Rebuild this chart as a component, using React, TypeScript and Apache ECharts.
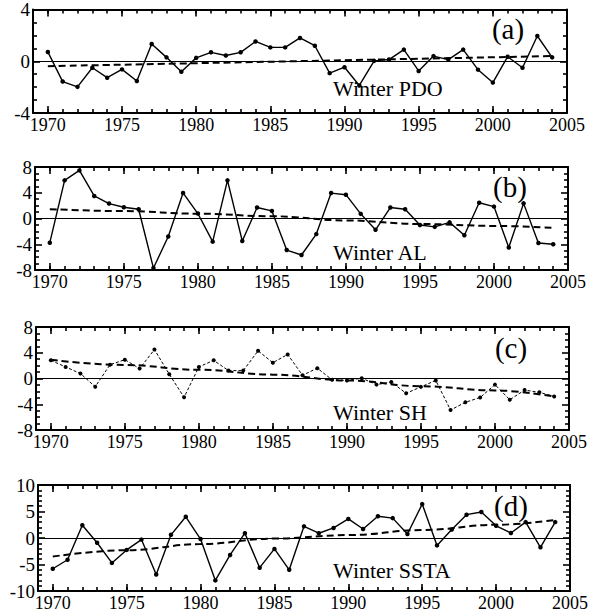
import React, { useEffect, useRef } from "react";
import * as echarts from "echarts";

// Winter climate indices, 1970–2004
const YEARS = [
  1970, 1971, 1972, 1973, 1974, 1975, 1976, 1977, 1978, 1979, 1980, 1981,
  1982, 1983, 1984, 1985, 1986, 1987, 1988, 1989, 1990, 1991, 1992, 1993,
  1994, 1995, 1996, 1997, 1998, 1999, 2000, 2001, 2002, 2003, 2004,
];
const MAJOR_YEARS = [1970, 1975, 1980, 1985, 1990, 1995, 2000, 2005];
const X_MIN = 1969;
const X_MAX = 2005;

const PDO = [
  0.72, -1.57, -1.98, -0.5, -1.27, -0.63, -1.53, 1.33, 0.3, -0.81, 0.26, 0.69,
  0.44, 0.69, 1.53, 1.07, 1.07, 1.8, 1.2, -0.92, -0.46, -1.87, 0.03, 0.13, 0.9,
  -0.75, 0.4, 0.13, 0.9, -0.65, -1.65, 0.35, -0.5, 1.95, 0.3,
];
const AL = [
  -3.76, 5.93, 7.47, 3.5, 2.32, 1.75, 1.44, -7.7, -2.8, 3.97, 0.77, -3.6, 5.93,
  -3.5, 1.7, 1.18, -4.9, -5.67, -2.42, 3.95, 3.7, 0.72, -1.75, 1.7, 1.44, -1.0,
  -1.3, -0.6, -2.6, 2.45, 1.85, -4.5, 2.35, -3.8, -4.0,
];
const SH = [
  2.82, 1.8, 0.77, -1.28, 2.15, 2.92, 1.54, 4.5, 0.67, -2.92, 1.8, 2.82, 1.23,
  1.23, 4.3, 2.46, 3.74, 0.5, 1.6, -0.2, -0.3, 0.05, -0.95, -0.55, -2.3, -1.3,
  -0.3, -4.9, -3.7, -2.95, -0.95, -3.3, -1.8, -2.15, -2.8,
];
const SSTA = [
  -5.8, -4.1, 2.4, -0.9, -4.7, -2.25, -0.3, -6.9, 0.6, 4.0, -0.2, -8.0, -3.2,
  0.9, -5.6, -2.06, -6.0, 2.2, 0.9, 1.9, 3.6, 1.7, 4.1, 3.75, 0.75, 6.4, -1.4,
  1.6, 4.4, 4.9, 2.3, 0.94, 3.0, -1.75, 3.0,
];

// Trend curves (dashed)
const TREND_A_YEARS = [1970, 2004];
const TREND_A = [-0.38, 0.4];
const TREND_B_YEARS = [1970, 1975, 1980, 1985, 1990, 1995, 2000, 2004];
const TREND_B = [1.45, 1.15, 0.75, 0.35, -0.3, -0.85, -1.15, -1.45];
const TREND_C_YEARS = [1970, 1975, 1980, 1985, 1990, 1995, 2000, 2004];
const TREND_C = [2.9, 2.1, 1.35, 0.6, -0.3, -1.2, -1.85, -2.8];
const TREND_D_YEARS = [1970, 1975, 1980, 1985, 1990, 1995, 2000, 2004];
const TREND_D = [-3.5, -2.3, -1.15, -0.1, 0.55, 1.5, 2.5, 3.4];

const TAGS = ["(a)", "(b)", "(c)", "(d)"];
const TITLES = ["Winter PDO", "Winter AL", "Winter SH", "Winter SSTA"];
const Y_MIN = [-4, -8, -8, -10];
const Y_MAX = [4, 8, 8, 10];
const Y_STEP = [4, 4, 4, 5];

const SERIES_VALUES = [PDO, AL, SH, SSTA];
const TREND_YEARS = [TREND_A_YEARS, TREND_B_YEARS, TREND_C_YEARS, TREND_D_YEARS];
const TREND_VALUES = [TREND_A, TREND_B, TREND_C, TREND_D];

// panel boxes in pixels
const LAYOUT = [
  { left: 33, top: 9, width: 534, height: 104, tagX: 508, tagY: 29, titleY: 88 },
  { left: 35, top: 167, width: 533, height: 103, tagX: 510, tagY: 187, titleY: 252 },
  { left: 36, top: 327, width: 533, height: 103, tagX: 511, tagY: 348, titleY: 412 },
  { left: 38, top: 485, width: 532, height: 107, tagX: 511, tagY: 506, titleY: 570 },
];

const FONT = "'Liberation Serif', 'Times New Roman', serif";
const MAJOR_LEN = 7;
const MINOR_LEN = 4;
const TICK_LINE = { color: "#000", width: 1.6 };

function buildOption() {
  const grid: any[] = [];
  const xAxis: any[] = [];
  const yAxis: any[] = [];
  const series: any[] = [];
  const graphic: any[] = [];

  LAYOUT.forEach((box, i) => {
    const yMin = Y_MIN[i];
    const yMax = Y_MAX[i];
    const step = Y_STEP[i];

    grid.push({
      left: box.left,
      top: box.top,
      width: box.width,
      height: box.height,
      show: false,
    });

    // x axes: [bottom major, bottom yearly, top major, top yearly];
    // negative tick lengths turn the outward ticks into the frame
    for (const position of ["bottom", "top"]) {
      xAxis.push({
        gridIndex: i,
        type: "value",
        position,
        min: X_MIN,
        max: X_MAX,
        axisLine: {
          show: true,
          onZero: false,
          lineStyle: { color: "#000", width: 2 },
        },
        splitLine: { show: false },
        axisTick: {
          show: true,
          inside: false,
          length: -MAJOR_LEN,
          customValues: MAJOR_YEARS,
          lineStyle: TICK_LINE,
        },
        axisLabel:
          position === "bottom"
            ? {
                show: true,
                customValues: MAJOR_YEARS,
                formatter: (v: number) => String(v),
                fontFamily: FONT,
                fontSize: 18,
                color: "#000",
                margin: 3,
              }
            : { show: false },
      });
      xAxis.push({
        gridIndex: i,
        type: "value",
        position,
        min: X_MIN,
        max: X_MAX,
        interval: 1,
        axisLine: { show: false, onZero: false },
        splitLine: { show: false },
        axisTick: {
          show: true,
          inside: false,
          length: -MINOR_LEN,
          lineStyle: TICK_LINE,
        },
        axisLabel: { show: false },
      });
    }

    // y axes: [left, right]
    for (const position of ["left", "right"]) {
      yAxis.push({
        gridIndex: i,
        type: "value",
        position,
        min: yMin,
        max: yMax,
        interval: step,
        axisLine: {
          show: true,
          onZero: false,
          lineStyle: { color: "#000", width: 2 },
        },
        splitLine: { show: false },
        axisTick: {
          show: true,
          inside: false,
          length: -MAJOR_LEN,
          lineStyle: TICK_LINE,
        },
        minorTick: {
          show: true,
          splitNumber: step,
          length: -MINOR_LEN,
          lineStyle: TICK_LINE,
        },
        axisLabel:
          position === "left"
            ? { show: true, fontFamily: FONT, fontSize: 19, color: "#000", margin: 3 }
            : { show: false },
      });
    }

    const values = SERIES_VALUES[i];
    const thinDashed = i === 2;
    series.push({
      type: "line",
      xAxisIndex: i * 4,
      yAxisIndex: i * 2,
      data: YEARS.map((y, k) => [y, values[k]]),
      symbol: "circle",
      symbolSize: thinDashed ? 4 : 4.5,
      itemStyle: { color: "#000" },
      lineStyle: thinDashed
        ? { color: "#000", width: 1, type: [3, 2] }
        : { color: "#000", width: 1.4 },
      silent: true,
      z: 3,
      markLine: {
        silent: true,
        symbol: "none",
        label: { show: false },
        lineStyle: { color: "#000", width: 1, type: "solid" },
        data: [{ yAxis: 0 }],
      },
    });

    const ty = TREND_YEARS[i];
    const tv = TREND_VALUES[i];
    series.push({
      type: "line",
      xAxisIndex: i * 4,
      yAxisIndex: i * 2,
      data: ty.map((y, k) => [y, tv[k]]),
      symbol: "none",
      smooth: 0.4,
      smoothMonotone: "x",
      lineStyle: { color: "#000", width: 2, type: [7, 4] },
      silent: true,
      z: 2,
    });

    graphic.push({
      type: "text",
      x: box.tagX,
      y: box.tagY,
      style: {
        text: TAGS[i],
        fontFamily: FONT,
        fontSize: 29,
        fill: "#000",
        align: "center",
        verticalAlign: "middle",
      },
    });
    graphic.push({
      type: "text",
      x: 333,
      y: box.titleY,
      style: {
        text: TITLES[i],
        fontFamily: FONT,
        fontSize: 22,
        fill: "#000",
        align: "left",
        verticalAlign: "middle",
      },
    });
  });

  return {
    animation: false,
    backgroundColor: "#fff",
    grid,
    xAxis,
    yAxis,
    series,
    graphic,
  };
}

export default function App() {
  const ref = useRef<HTMLDivElement>(null);
  useEffect(() => {
    if (!ref.current) return;
    const chart = echarts.init(ref.current, undefined, { renderer: "svg" });
    chart.setOption(buildOption() as any);
    return () => chart.dispose();
  }, []);
  return (
    <div
      ref={ref}
      style={{ position: "fixed", left: 0, top: 0, width: 598, height: 612 }}
    />
  );
}
